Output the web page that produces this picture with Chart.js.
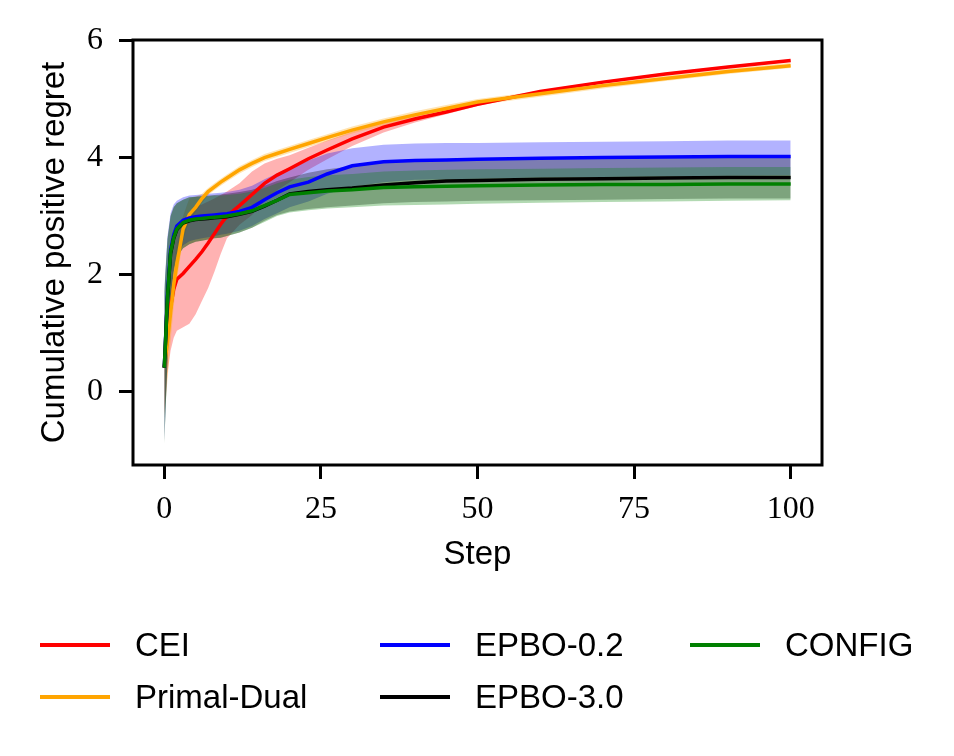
<!DOCTYPE html>
<html>
<head>
<meta charset="utf-8">
<title>Cumulative positive regret</title>
<script src="https://cdn.jsdelivr.net/npm/chart.js@4.4.1/dist/chart.umd.min.js"></script>
<style>
  body { margin: 0; background: #fff; }
  #wrap { position: relative; width: 954px; height: 756px; }
  #chart { position: absolute; left: 0; top: 0; }
  .item { position: absolute; height: 40px; display: flex; align-items: center;
          font: 33px "Liberation Sans", Arial, sans-serif; color: #000; white-space: nowrap; }
  .swatch { width: 70px; height: 3.5px; margin-right: 25px; }
</style>
</head>
<body>
<div id="wrap">
  <canvas id="chart" width="954" height="756"></canvas>
  <div id="legend"></div>
</div>
<script>
const steps = [0, 0.5, 1, 1.5, 2, 3, 4, 5, 6, 7, 8, 9, 10, 12, 14, 16, 18, 20, 23, 26, 30, 35, 40, 45, 50, 60, 70, 80, 90, 100];

const ceiMean = [0.41, 1.0, 1.45, 1.75, 1.92, 2.02, 2.14, 2.26, 2.39, 2.54, 2.70, 2.86, 3.0, 3.18, 3.37, 3.56, 3.70, 3.81, 3.98, 4.13, 4.32, 4.52, 4.66, 4.78, 4.91, 5.13, 5.29, 5.43, 5.55, 5.66];
const ceiLow = [-0.38, 0.3, 0.7, 0.92, 1.04, 1.1, 1.16, 1.32, 1.55, 1.77, 2.05, 2.35, 2.62, 2.85, 3.02, 3.26, 3.44, 3.58, 3.79, 3.97, 4.2, 4.43, 4.6, 4.74, 4.88, 5.11, 5.27, 5.41, 5.53, 5.64];
const ceiHigh = [1.2, 1.8, 2.25, 2.55, 2.75, 2.92, 3.06, 3.15, 3.2, 3.25, 3.3, 3.36, 3.42, 3.56, 3.76, 3.9, 3.98, 4.04, 4.17, 4.29, 4.44, 4.61, 4.72, 4.82, 4.94, 5.15, 5.31, 5.45, 5.57, 5.68];

const pdMean = [0.41, 0.85, 1.35, 1.82, 2.18, 2.78, 3.03, 3.15, 3.3, 3.42, 3.5, 3.58, 3.65, 3.79, 3.9, 4.0, 4.07, 4.14, 4.24, 4.34, 4.47, 4.61, 4.73, 4.84, 4.95, 5.09, 5.23, 5.35, 5.47, 5.57];
const pdLow = [-0.45, 0.2, 0.85, 1.45, 1.9, 2.6, 2.92, 3.07, 3.23, 3.36, 3.44, 3.52, 3.59, 3.73, 3.84, 3.94, 4.01, 4.08, 4.18, 4.28, 4.41, 4.55, 4.68, 4.79, 4.9, 5.04, 5.18, 5.31, 5.43, 5.53];
const pdHigh = [1.3, 1.5, 1.85, 2.2, 2.5, 3.0, 3.3, 3.33, 3.38, 3.48, 3.56, 3.64, 3.71, 3.85, 3.96, 4.06, 4.13, 4.2, 4.3, 4.4, 4.53, 4.67, 4.79, 4.9, 5.0, 5.14, 5.28, 5.4, 5.52, 5.62];

const epbo02Mean = [0.41, 1.65, 2.42, 2.68, 2.83, 2.93, 2.97, 2.99, 3.0, 3.01, 3.02, 3.03, 3.04, 3.08, 3.15, 3.28, 3.4, 3.5, 3.58, 3.72, 3.86, 3.93, 3.95, 3.96, 3.97, 3.99, 4.0, 4.01, 4.02, 4.02];
const epbo02Low = [-0.85, 0.55, 1.6, 2.1, 2.35, 2.5, 2.57, 2.6, 2.62, 2.64, 2.66, 2.68, 2.7, 2.75, 2.83, 2.95, 3.05, 3.15, 3.25, 3.38, 3.5, 3.58, 3.62, 3.63, 3.64, 3.66, 3.67, 3.68, 3.69, 3.7];
const epbo02High = [1.75, 2.65, 3.05, 3.2, 3.26, 3.32, 3.35, 3.36, 3.37, 3.38, 3.39, 3.4, 3.41, 3.45, 3.52, 3.63, 3.73, 3.8, 3.95, 4.07, 4.16, 4.22, 4.24, 4.25, 4.25, 4.26, 4.27, 4.28, 4.29, 4.29];

const epbo30Mean = [0.41, 1.58, 2.36, 2.62, 2.77, 2.88, 2.92, 2.94, 2.95, 2.96, 2.97, 2.98, 2.99, 3.03, 3.08, 3.17, 3.27, 3.38, 3.42, 3.45, 3.48, 3.53, 3.57, 3.6, 3.61, 3.63, 3.64, 3.65, 3.66, 3.66];
const epbo30Low = [-0.88, 0.5, 1.55, 2.05, 2.3, 2.45, 2.52, 2.56, 2.58, 2.6, 2.62, 2.63, 2.66, 2.72, 2.8, 2.92, 3.02, 3.08, 3.12, 3.15, 3.18, 3.22, 3.24, 3.25, 3.26, 3.27, 3.28, 3.29, 3.3, 3.3];
const epbo30High = [1.7, 2.6, 3.0, 3.15, 3.22, 3.28, 3.32, 3.33, 3.34, 3.35, 3.36, 3.37, 3.38, 3.41, 3.45, 3.52, 3.6, 3.66, 3.74, 3.8, 3.85, 3.92, 3.95, 3.96, 3.97, 3.98, 3.99, 4.0, 4.0, 4.0];

const configMean = [0.41, 1.6, 2.38, 2.63, 2.78, 2.89, 2.93, 2.95, 2.96, 2.97, 2.98, 2.99, 3.0, 3.04, 3.09, 3.18, 3.27, 3.37, 3.4, 3.43, 3.45, 3.49, 3.5, 3.51, 3.52, 3.53, 3.54, 3.54, 3.55, 3.55];
const configLow = [-0.9, 0.5, 1.55, 2.05, 2.3, 2.45, 2.52, 2.56, 2.58, 2.6, 2.62, 2.63, 2.66, 2.72, 2.8, 2.9, 3.0, 3.06, 3.1, 3.13, 3.15, 3.18, 3.19, 3.2, 3.21, 3.23, 3.24, 3.25, 3.26, 3.27];
const configHigh = [1.72, 2.6, 3.0, 3.15, 3.22, 3.28, 3.32, 3.33, 3.34, 3.34, 3.35, 3.35, 3.36, 3.38, 3.42, 3.48, 3.56, 3.62, 3.67, 3.7, 3.72, 3.76, 3.78, 3.79, 3.8, 3.81, 3.82, 3.83, 3.84, 3.84];

const seriesNames = ["CEI", "Primal-Dual", "EPBO-0.2", "EPBO-3.0", "CONFIG"];
const lineColors = ["#ff0000", "#ffa500", "#0000ff", "#000000", "#008000"];
const bandColors = ["rgba(255,0,0,0.3)", "rgba(255,165,0,0.3)", "rgba(0,0,255,0.3)", "rgba(0,0,0,0.3)", "rgba(0,128,0,0.3)"];
const means = [ceiMean, pdMean, epbo02Mean, epbo30Mean, configMean];
const lows = [ceiLow, pdLow, epbo02Low, epbo30Low, configLow];
const highs = [ceiHigh, pdHigh, epbo02High, epbo30High, configHigh];

const xTicks = [0, 25, 50, 75, 100];
const yTicks = [0, 2, 4, 6];

function pts(vals) {
  return steps.map((s, i) => ({ x: s, y: vals[i] }));
}

// bands first (CEI at the bottom, CONFIG on top), then the mean lines
const datasets = [];
seriesNames.forEach((name, i) => {
  datasets.push({ label: name + " low", data: pts(lows[i]), borderWidth: 0, pointRadius: 0, fill: false, order: 20 - i });
  datasets.push({ label: name + " band", data: pts(highs[i]), borderWidth: 0, pointRadius: 0, fill: "-1", backgroundColor: bandColors[i], order: 20 - i });
});
seriesNames.forEach((name, i) => {
  datasets.push({ label: name, data: pts(means[i]), borderColor: lineColors[i], borderWidth: 3.5, pointRadius: 0, fill: false, order: 5 - i });
});

// matplotlib-like box around the axes
const frame = {
  id: "frame",
  afterDatasetsDraw(chart) {
    const { ctx, chartArea: a } = chart;
    ctx.save();
    ctx.strokeStyle = "#000";
    ctx.lineWidth = 3;
    ctx.strokeRect(a.left, a.top, a.right - a.left, a.bottom - a.top);
    ctx.restore();
  },
};

const tickGrid = { display: true, drawOnChartArea: false, drawTicks: true, tickLength: 14, tickWidth: 3, tickColor: "#000" };
const serif = { family: "'Liberation Serif', 'Times New Roman', serif", size: 32 };
const sans = { family: "'Liberation Sans', Arial, sans-serif", size: 33 };

new Chart(document.getElementById("chart"), {
  type: "line",
  data: { datasets: datasets },
  plugins: [frame],
  options: {
    responsive: false,
    animation: false,
    events: [],
    layout: { padding: { left: 0, right: 132, top: 40, bottom: 181 } },
    plugins: {
      legend: { display: false },
      tooltip: { enabled: false },
      filler: { drawTime: "beforeDatasetsDraw" },
    },
    scales: {
      x: {
        type: "linear",
        min: -5,
        max: 105,
        afterBuildTicks: (s) => { s.ticks = xTicks.map((v) => ({ value: v })); },
        afterFit: (s) => { s.height = 110; },
        grid: tickGrid,
        border: { display: false },
        ticks: { font: serif, color: "#000", padding: 11, maxRotation: 0, callback: (v) => String(v) },
        title: { display: true, text: "Step", font: sans, color: "#000", padding: { top: 0, bottom: 0 } },
      },
      y: {
        min: -1.255,
        max: 6.01,
        afterBuildTicks: (s) => { s.ticks = yTicks.map((v) => ({ value: v })); },
        afterFit: (s) => { s.width = 133; },
        grid: tickGrid,
        border: { display: false },
        ticks: { font: serif, color: "#000", padding: 16, callback: (v) => String(v) },
        title: { display: true, text: "Cumulative positive regret", font: sans, color: "#000", padding: { top: 35, bottom: 0 } },
      },
    },
  },
});

// legend in three columns, filled column by column like matplotlib
const legendCols = [40, 380, 690];
const legendRows = [645, 697];
const legend = document.getElementById("legend");
seriesNames.forEach((name, k) => {
  const item = document.createElement("div");
  item.className = "item";
  item.style.left = legendCols[Math.floor(k / 2)] + "px";
  item.style.top = (legendRows[k % 2] - 20) + "px";
  const sw = document.createElement("div");
  sw.className = "swatch";
  sw.style.background = lineColors[k];
  const txt = document.createElement("span");
  txt.textContent = name;
  item.appendChild(sw);
  item.appendChild(txt);
  legend.appendChild(item);
});
</script>
</body>
</html>
